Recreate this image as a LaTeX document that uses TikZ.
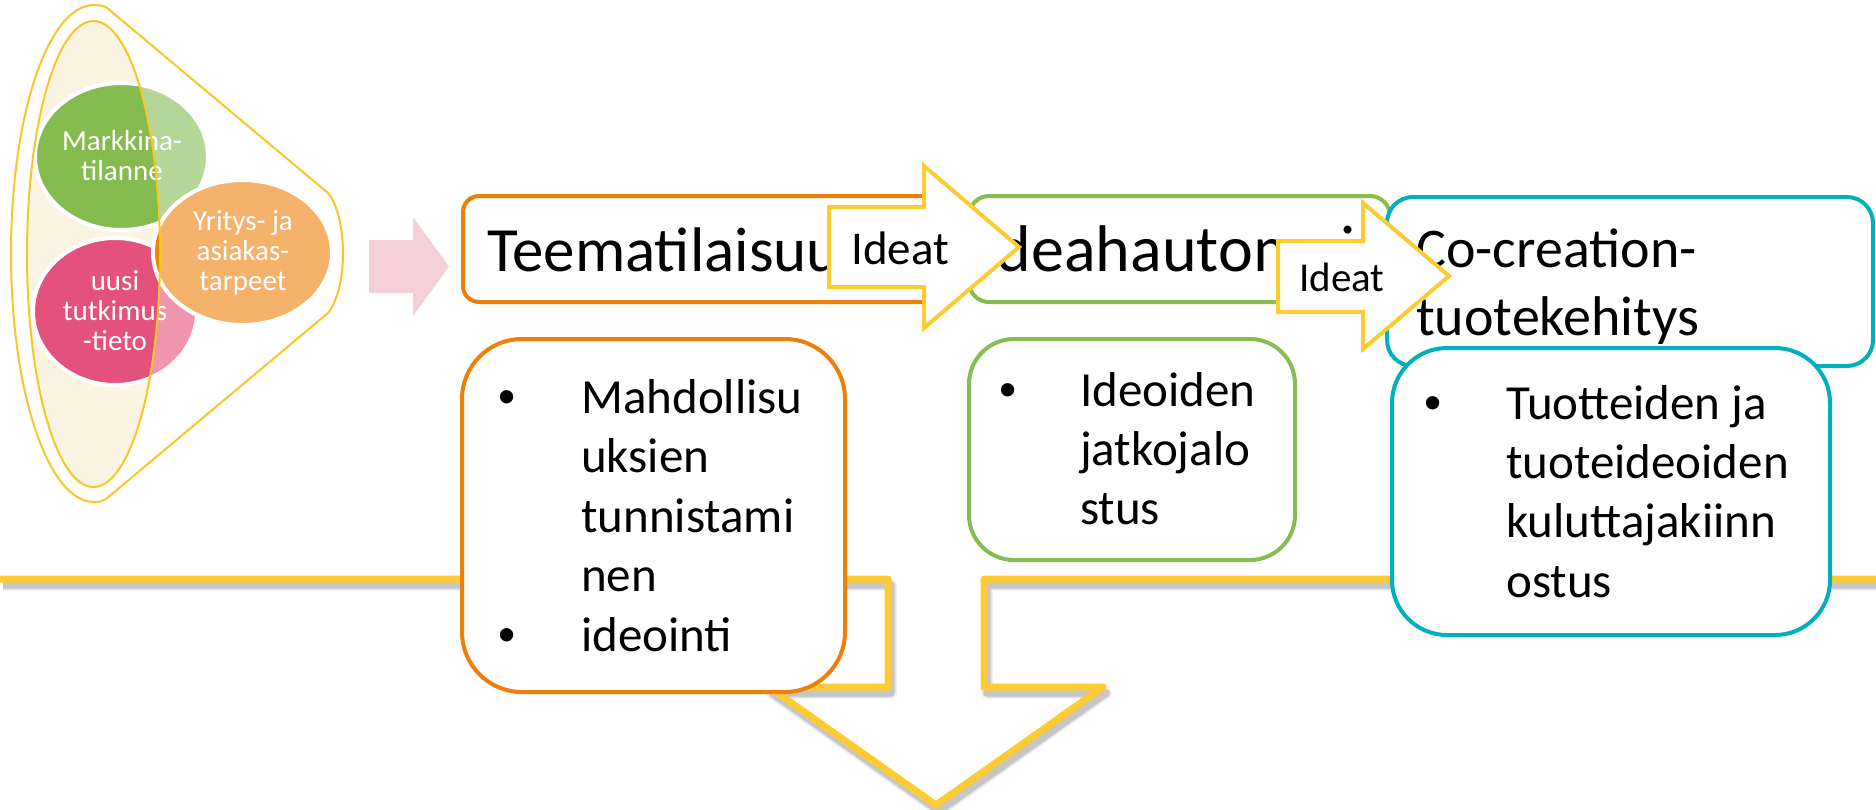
\documentclass[tikz,border=0pt]{standalone}
\usepackage{fontspec}
\setmainfont{Carlito}
\newfontfamily\bulfont{Liberation Sans}
\usetikzlibrary{shapes.geometric}
\definecolor{orangeC}{HTML}{F07F09}
\definecolor{greenC}{HTML}{86BC52}
\definecolor{tealC}{HTML}{00B0BA}
\definecolor{yel}{HTML}{FDCC33}
\definecolor{funnelY}{HTML}{F7C72A}
\definecolor{cream}{HTML}{FCF4E3}
\definecolor{pinkA}{HTML}{F5D0D8}
\definecolor{gFull}{HTML}{84BC4F}
\definecolor{gLight}{HTML}{B5D79A}
\definecolor{pFull}{HTML}{E4517B}
\definecolor{pLight}{HTML}{EF95AD}
\definecolor{oFull}{HTML}{F08000}
\definecolor{oLight}{HTML}{F5B26B}
\tikzset{
  boxbase/.style={draw, line width=4pt, fill=white, inner sep=0pt},
  titletext/.style={anchor=base west, inner sep=0pt, font=\fontsize{#1}{#1}\selectfont},
  listtext/.style={anchor=base west, inner sep=0pt, font=\fontsize{49}{59}\selectfont},
  bullettext/.style={anchor=base, inner sep=0pt, font=\bulfont\fontsize{49}{59}\selectfont},
  blobtext/.style={anchor=base, inner sep=0pt, text=white, font=\fontsize{29}{30}\selectfont},
  blob/.style={ellipse, draw=white, line width=4pt, inner sep=0pt},
  ideaarrow/.style={draw=yel, line width=4pt, fill=white, line join=miter},
}
\begin{document}
\begin{tikzpicture}[x=1pt,y=-1pt]
\useasboundingbox (0,0) rectangle (1876,809);

% bottom yellow arrow band with shadow
\foreach \w/\o in {12/0.10, 9/0.18, 7/0.25}{
  \draw[gray, line width=\w pt, opacity=\o, line join=round]
    (3,585) -- (891,585) -- (891,693) -- (772,693) -- (939,811) -- (1106,693) -- (987,693) -- (987,585) -- (1879,585);
}
\draw[yel, line width=7pt, line join=round]
  (0,579) coordinate (bandL) -- (888,579) -- (888,687) -- (769,687) -- (936,805) coordinate (bandTip) -- (1103,687) -- (984,687) -- (984,579) -- (1876,579) coordinate (bandR);

% funnel
\draw[funnelY, line width=2pt, fill=white]
  (94,5) .. controls (100,5) and (103,6) .. (106,7) -- (328,193)
  .. controls (348,218) and (348,288) .. (328,313) -- (106,499)
  .. controls (103,501) and (100,502) .. (94,502)
  .. controls (48,502) and (11,391) .. (11,253.5)
  .. controls (11,116) and (48,5) .. (94,5) -- cycle;
\fill[cream] (93.5,254) ellipse [x radius=66.5, y radius=233];

% light blobs
\node[blob, fill=gLight, minimum width=173pt, minimum height=147pt] at (121.5,156.5) {};
\node[blob, fill=pLight, minimum width=164pt, minimum height=147pt] at (115,311.5) {};
\node[blob, fill=oLight, minimum width=179pt, minimum height=145pt] at (242.5,252.5) {};
% full colour inside inner ellipse
\begin{scope}
  \clip (93.5,254) ellipse [x radius=66.5, y radius=233];
  \node[blob, fill=gFull, minimum width=173pt, minimum height=147pt] (markkina) at (121.5,156.5) {};
  \node[blob, fill=pFull, minimum width=164pt, minimum height=147pt] (tutkimus) at (115,311.5) {};
  \node[blob, fill=oFull, minimum width=179pt, minimum height=145pt] (tarpeet) at (242.5,252.5) {};
\end{scope}
\node[blobtext] (m1) at (122,150) {Markkina-};
\node[blobtext] (m2) at (122,180) {tilanne};
\node[blobtext] (u1) at (115,290) {uusi};
\node[blobtext] (u2) at (115,320) {tutkimus};
\node[blobtext] (u3) at (115,350) {-tieto};
\node[blobtext] (y1) at (243,230) {Yritys- ja};
\node[blobtext] (y2) at (243,260) {asiakas-};
\node[blobtext] (y3) at (243,290) {tarpeet};
\draw[funnelY, line width=2pt] (93.5,254) ellipse [x radius=66.5, y radius=233];

% pink block arrow
\fill[pinkA] (369,240) -- (413,240) -- (413,217) -- (449,266.5) -- (413,316) -- (413,293) -- (369,293) -- cycle;

% top boxes
\node[boxbase, draw=orangeC, rounded corners=16pt, minimum width=477pt, minimum height=106pt] (teema) at (701.5,249) {};
\node[titletext=63] (teemaT) at (487,271) {Teematilaisuus};
\node[boxbase, draw=greenC, rounded corners=20pt, minimum width=421pt, minimum height=106pt] (idea) at (1179.5,249) {};
\node[titletext=66] (ideaT) at (980,271) {Ideahautomoi};
\node[boxbase, draw=tealC, rounded corners=26pt, minimum width=486pt, minimum height=169pt] (cocr) at (1630,281.5) {};
\node[titletext=56] (cocrT1) at (1416,267) {Co-creation-};
\node[titletext=56] (cocrT2) at (1416,335) {tuotekehitys};

% lower boxes
\node[boxbase, draw=orangeC, rounded corners=60pt, minimum width=383pt, minimum height=353pt] (teemaL) at (653.5,515.5) {};
\node[bullettext] at (507,413) {•};
\node[bullettext] at (507,651) {•};
\foreach \t/\y in {Mahdollisu/413, uksien/472, tunnistami/532, nen/591, ideointi/651}
  \node[listtext] at (581,\y) {\t};

\node[boxbase, draw=greenC, rounded corners=45pt, minimum width=326pt, minimum height=221pt] (ideaL) at (1132,449.5) {};
\node[bullettext] at (1008,406) {•};
\foreach \t/\y in {Ideoiden/406, jatkojalo/465, stus/524}
  \node[listtext] at (1080,\y) {\t};

\node[boxbase, draw=tealC, rounded corners=55pt, minimum width=438pt, minimum height=287pt] (cocrL) at (1611,491.5) {};
\node[bullettext] at (1433,419) {•};
\foreach \t/\y in {Tuotteiden ja/419, tuoteideoiden/478, kuluttajakiinn/537, ostus/597}
  \node[listtext] at (1506,\y) {\t};

% Ideat arrows
\draw[ideaarrow] (829,207) -- (924,207) -- (924,166) -- (1019,247) -- (924,328) -- (924,287) -- (829,287) -- cycle;
\node[titletext=47] (ideat1) at (851,264) {Ideat};
\draw[ideaarrow] (1278,241) -- (1363,241) -- (1363,203) -- (1449,276) -- (1363,349) -- (1363,312) -- (1278,312) -- cycle;
\node[titletext=41] (ideat2) at (1299,291) {Ideat};
\end{tikzpicture}
\end{document}
